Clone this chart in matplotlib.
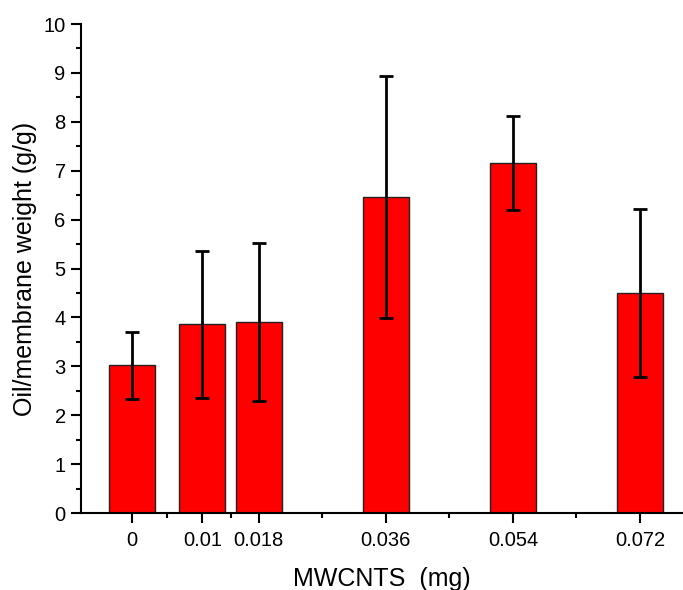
import matplotlib
matplotlib.use("Agg")
import matplotlib.pyplot as plt
import numpy as np

# data
mwcnts = [0, 0.01, 0.018, 0.036, 0.054, 0.072]
tick_labels = ["0", "0.01", "0.018", "0.036", "0.054", "0.072"]
oil_weight = [3.02, 3.86, 3.91, 6.46, 7.15, 4.50]
oil_err = [0.68, 1.50, 1.61, 2.47, 0.96, 1.72]

plt.rcParams["font.family"] = ["Liberation Sans", "DejaVu Sans"]

fig = plt.figure(figsize=(6.83, 5.9), dpi=100)
ax = fig.add_axes([0.1186, 0.1305, 0.8814, 0.8288])

ax.bar(mwcnts, oil_weight, width=0.0065, color="#ff0000",
       edgecolor="#222222", linewidth=1.0, zorder=2)
ax.errorbar(mwcnts, oil_weight, yerr=oil_err, fmt="none", ecolor="black",
            elinewidth=2.0, capsize=5, capthick=2.0, zorder=3)

ax.set_xlim(-0.0072, 0.0781)
ax.set_ylim(0, 10)
ax.set_xticks(mwcnts)
ax.set_xticklabels(tick_labels)
ax.set_xticks(np.diff(mwcnts) / 2 + np.array(mwcnts[:-1]), minor=True)
ax.set_yticks(np.arange(0, 11, 1))
ax.set_yticks(np.arange(0.5, 10, 1), minor=True)

for s in ("top", "right"):
    ax.spines[s].set_visible(False)
for s in ("left", "bottom"):
    ax.spines[s].set_linewidth(1.5)

ax.tick_params(which="major", direction="out", length=7, width=1.5,
               labelsize=14.5, pad=4)
ax.tick_params(which="minor", direction="out", length=3.5, width=1.5)
ax.tick_params(axis="x", which="major", pad=6)

ax.set_xlabel("MWCNTS  (mg)", fontsize=18, labelpad=12)
ax.set_ylabel("Oil/membrane weight (g/g)", fontsize=18, labelpad=5)

fig.savefig("out.png", dpi=100)
